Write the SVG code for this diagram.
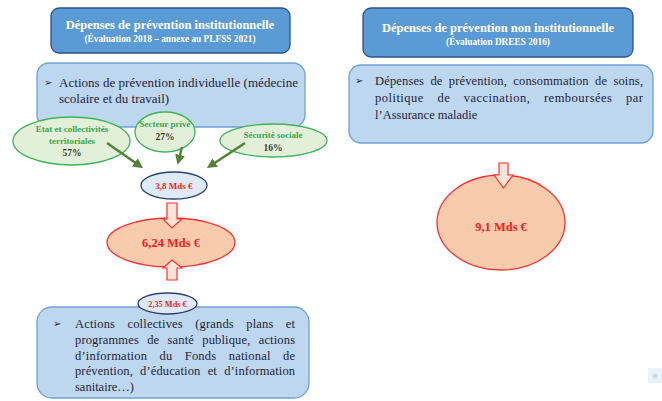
<svg xmlns="http://www.w3.org/2000/svg" width="662" height="401" viewBox="0 0 662 401">
<defs>
<style>
.title{fill:#5B9BD5;stroke:#2F528F;stroke-width:1.3}
.box{fill:#BDD7EE;stroke:#6FA0D8;stroke-width:1.3}
.green{fill:#E2F0D9;stroke:#3CB45A;stroke-width:1.3}
.blue{fill:#DEEBF7;stroke:#2F3F6F;stroke-width:1.3}
.peach{fill:#F8CBAD;stroke:#FF3030;stroke-width:1.3}
.barrow{fill:#FCE4D6;stroke:#FF3030;stroke-width:1.2}
.conn{stroke:#548235;stroke-width:2.5;fill:none}
text{font-family:"Liberation Serif","Times New Roman",serif}
.tt{fill:#fff;font-weight:bold;text-anchor:middle}
.body{fill:#1E1E3C;font-size:13px}
.body2{fill:#1E1E3C;font-size:12.5px}
.bul{font-family:"DejaVu Sans",sans-serif;font-size:10px;fill:#1E1E3C}
.gt{fill:#3AA84A;font-weight:bold;font-size:9px;text-anchor:middle}
.pt{fill:#3A3A2A;font-weight:bold;font-size:9.5px;text-anchor:middle}
.red{fill:#FF1A1A;font-weight:bold;text-anchor:middle}
</style>
<marker id="ah" markerWidth="4" markerHeight="4" refX="2.5" refY="2" orient="auto" markerUnits="strokeWidth">
<path d="M0,0 L4,2 L0,4 Z" fill="#548235"/>
</marker>
</defs>
<rect width="662" height="401" fill="#fff"/>

<g id="title-inst">
<rect class="title" x="51" y="8" width="239" height="45" rx="8"/>
<text class="tt" x="170" y="29" font-size="12.5">Dépenses de prévention institutionnelle</text>
<text class="tt" x="170" y="42" font-size="9.3">(Évaluation 2018 – annexe au PLFSS 2021)</text>
</g>

<g id="title-noninst">
<rect class="title" x="363" y="8" width="270" height="49" rx="8"/>
<text class="tt" x="498" y="32" font-size="12.5">Dépenses de prévention non institutionnelle</text>
<text class="tt" x="498" y="45" font-size="9.3">(Évaluation DREES 2016)</text>
</g>

<g id="individuelle">
<rect class="box" x="37" y="63" width="268" height="64" rx="12"/>
<text class="bul" x="44" y="86">➢</text>
<text class="body" x="59" y="87" textLength="239" lengthAdjust="spacing">Actions de prévention individuelle (médecine</text>
<text class="body" x="59" y="103">scolaire et du travail)</text>
</g>

<g id="non-inst-box">
<rect class="box" x="349" y="65" width="304" height="78" rx="12"/>
<text class="bul" x="355" y="84">➢</text>
<text class="body2" x="375" y="85" word-spacing="3" textLength="268" lengthAdjust="spacing">Dépenses de prévention, consommation de soins,</text>
<text class="body2" x="375" y="102" word-spacing="10" textLength="268" lengthAdjust="spacing">politique de vaccination, remboursées par</text>
<text class="body2" x="375" y="119">l’Assurance maladie</text>
</g>

<g id="etat">
<ellipse class="green" cx="71.5" cy="141" rx="58.5" ry="24"/>
<text class="gt" x="72" y="132">Etat et collectivités</text>
<text class="gt" x="72" y="144">territoriales</text>
<text class="pt" x="72" y="156">57%</text>
</g>

<g id="prive">
<ellipse class="green" cx="165" cy="132" rx="30" ry="20"/>
<text class="gt" x="165" y="127">Secteur privé</text>
<text class="pt" x="165" y="140">27%</text>
</g>

<g id="secu">
<ellipse class="green" cx="273.5" cy="140.5" rx="53.5" ry="16.5"/>
<text class="gt" x="273" y="138">Sécurité sociale</text>
<text class="pt" x="273" y="151">16%</text>
</g>

<g id="v38">
<ellipse class="blue" cx="174" cy="185.5" rx="33" ry="13.5"/>
<text class="red" x="174" y="189" font-size="9">3,8 Mds €</text>
</g>

<g id="v624">
<ellipse class="peach" cx="171" cy="242.5" rx="64" ry="24.5"/>
<text class="red" x="171" y="247" font-size="12.5">6,24 Mds €</text>
</g>

<g id="collectives">
<rect class="box" x="37" y="307" width="272" height="91" rx="15"/>
<text class="bul" x="53" y="327">➢</text>
<text class="body2" x="75" y="328" word-spacing="9" textLength="220" lengthAdjust="spacing">Actions collectives (grands plans et</text>
<text class="body2" x="75" y="344" word-spacing="5" textLength="220" lengthAdjust="spacing">programmes de santé publique, actions</text>
<text class="body2" x="75" y="360" word-spacing="9" textLength="220" lengthAdjust="spacing">d’information du Fonds national de</text>
<text class="body2" x="75" y="375" word-spacing="4" textLength="220" lengthAdjust="spacing">prévention, d’éducation et d’information</text>
<text class="body2" x="75" y="391">sanitaire…)</text>
</g>

<g id="v235">
<ellipse class="blue" cx="167.5" cy="303.5" rx="29.5" ry="10.5"/>
<text class="red" x="167.5" y="306.5" font-size="8.3">2,35 Mds €</text>
</g>

<g id="v91">
<ellipse class="peach" cx="501" cy="222.5" rx="64" ry="47.5"/>
<text class="red" x="501" y="231" font-size="12.5">9,1 Mds €</text>
</g>

<g id="connectors">
<line class="conn" x1="107" y1="143" x2="140" y2="166" marker-end="url(#ah)"/>
<line class="conn" x1="182" y1="147" x2="178.5" y2="161" marker-end="url(#ah)"/>
<line class="conn" x1="245" y1="143" x2="210" y2="166" marker-end="url(#ah)"/>
<path class="barrow" d="M167,203 H177 V219 H182 L172,228 L163,219 H167 Z"/>
<path class="barrow" d="M167,280 H177 V268 H182 L172,260 L163,268 H167 Z"/>
<path class="barrow" d="M499,163 H508 V175 H513 L503.5,188 L494,175 H499 Z"/>
</g>

<rect x="648" y="368" width="14" height="15" fill="#EAF2FB"/>
<circle cx="655" cy="376" r="2.5" fill="#D8D8E0"/>
</svg>
